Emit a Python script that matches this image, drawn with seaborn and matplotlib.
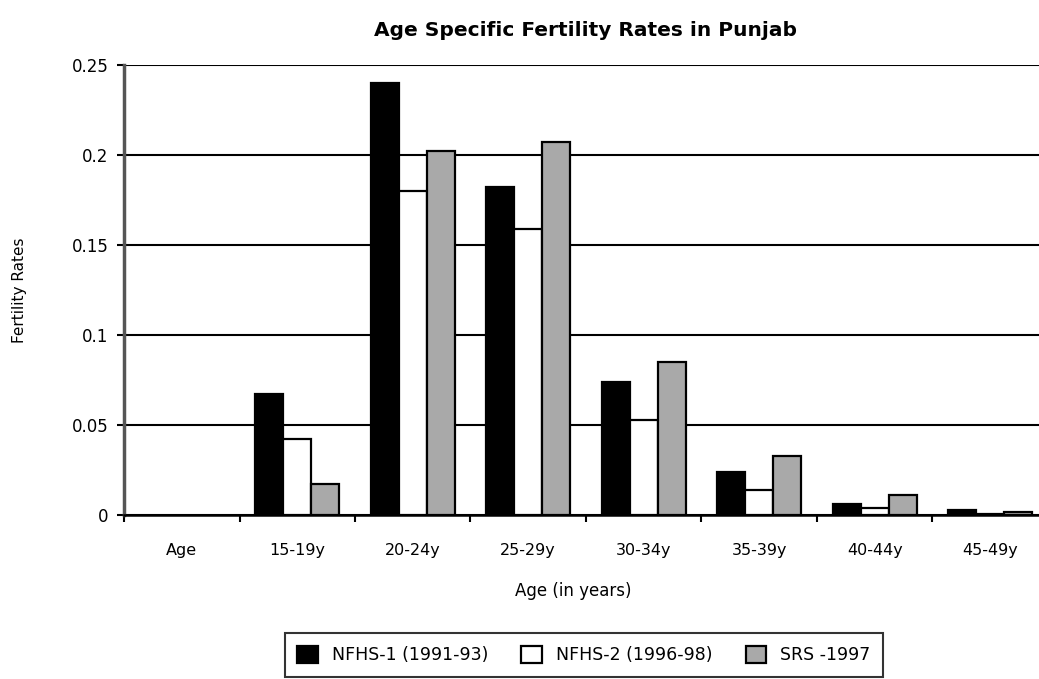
import numpy as np
import pandas as pd
import matplotlib
matplotlib.use("Agg")
import matplotlib.pyplot as plt
import seaborn as sns
from matplotlib.patches import Patch

# Age groups and fertility rates per survey
age_groups = ["Age", "15-19y", "20-24y", "25-29y", "30-34y", "35-39y", "40-44y", "45-49y"]
nfhs1 = [np.nan, 0.067, 0.240, 0.182, 0.074, 0.024, 0.006, 0.003]
nfhs2 = [np.nan, 0.042, 0.180, 0.159, 0.053, 0.014, 0.004, 0.0005]
srs = [np.nan, 0.017, 0.202, 0.207, 0.085, 0.033, 0.011, 0.0015]
series_names = ["NFHS-1 (1991-93)", "NFHS-2 (1996-98)", "SRS -1997"]

df = pd.DataFrame({
    "age": age_groups * 3,
    "rate": nfhs1 + nfhs2 + srs,
    "survey": [s for s in series_names for _ in age_groups],
})

sns.set_style("white")
plt.rcParams["font.family"] = ["DejaVu Sans"]
plt.rcParams["text.color"] = "black"
plt.rcParams["axes.labelcolor"] = "black"
plt.rcParams["xtick.color"] = "black"
plt.rcParams["ytick.color"] = "black"

fig = plt.figure(figsize=(10.39, 6.79), dpi=100)
ax = fig.add_axes([124 / 1039, 1 - 515 / 679, 924 / 1039, 450 / 679])

palette = {"NFHS-1 (1991-93)": "#000000", "NFHS-2 (1996-98)": "#ffffff", "SRS -1997": "#a9a9a9"}
sns.barplot(data=df, x="age", y="rate", hue="survey", order=age_groups,
            hue_order=series_names, palette=palette, width=0.73, gap=0,
            edgecolor="black", linewidth=1.6, saturation=1, ax=ax, legend=False)

ax.set_xlim(-0.5, len(age_groups) - 0.5)
ax.set_ylim(0, 0.25)
ax.set_yticks([0, 0.05, 0.1, 0.15, 0.2, 0.25])
ax.set_yticklabels(["0", "0.05", "0.1", "0.15", "0.2", "0.25"], fontsize=12)
ax.set_axisbelow(True)
ax.yaxis.grid(True, color="black", linewidth=1.5)
ax.xaxis.grid(False)

# boundary ticks between categories
ax.set_xticks(np.arange(len(age_groups)))
ax.set_xticklabels(age_groups, fontsize=11.5)
ax.set_xticks(np.arange(-0.5, len(age_groups)), minor=True)
ax.tick_params(axis="x", which="major", length=0, pad=20, bottom=False)
ax.tick_params(axis="x", which="minor", length=5, width=1.5, color="black",
               direction="out", bottom=True)
ax.tick_params(axis="y", length=5, width=1.5, color="black", direction="out", left=True, pad=6)

for s in ["top", "right"]:
    ax.spines[s].set_visible(False)
ax.spines["left"].set_color("#555555")
ax.spines["left"].set_linewidth(2.5)
ax.spines["bottom"].set_color("black")
ax.spines["bottom"].set_linewidth(1.8)

ax.set_xlabel("Age (in years)", fontsize=12)
ax.xaxis.set_label_coords((573 - 124) / 924, (515 - 582) / 450)
ax.set_ylabel("Fertility Rates", fontsize=11)
ax.yaxis.set_label_coords((27 - 124) / 924, 0.5)
fig.text(585 / 1039, 1 - 30 / 679, "Age Specific Fertility Rates in Punjab",
         ha="center", va="center", fontsize=14.5, fontweight="bold")

handles = [Patch(facecolor=palette[n], edgecolor="black", linewidth=1.6) for n in series_names]
leg = fig.legend(handles, series_names, loc="center", bbox_to_anchor=(584 / 1039, 1 - 655 / 679),
                 ncol=3, fontsize=12.5, frameon=True, fancybox=False, handlelength=1.2,
                 handleheight=1.2, columnspacing=1.9, handletextpad=0.8, borderpad=0.7,
                 borderaxespad=0)
leg.get_frame().set_edgecolor("black")
leg.get_frame().set_linewidth(1.5)

fig.savefig("out.png", dpi=100)
